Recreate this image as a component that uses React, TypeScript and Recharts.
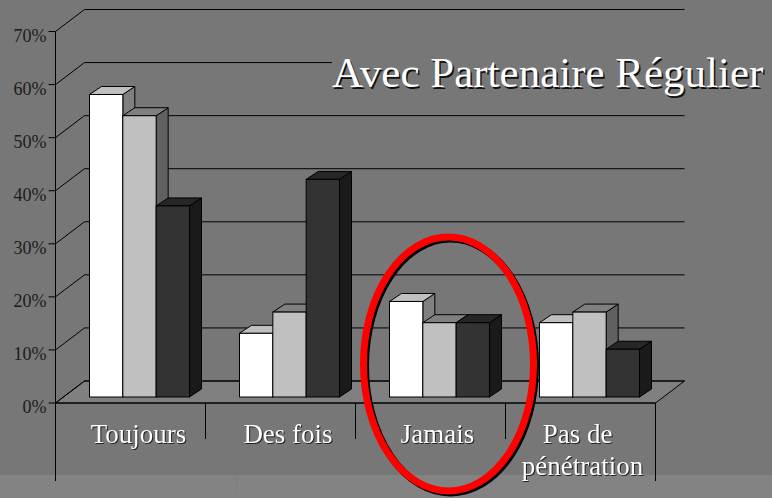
import React from 'react';
import { BarChart, Bar, XAxis, YAxis, CartesianGrid } from 'recharts';

const categories = ['Toujours', 'Des fois', 'Jamais', 'Pas de pénétration'];
const firstSeries = [57, 12, 18, 14];
const secondSeries = [53, 16, 14, 16];
const thirdSeries = [36, 41, 14, 9];
const yTicks = [0, 10, 20, 30, 40, 50, 60, 70];

const data = categories.map((name, i) => ({
  name,
  first: firstSeries[i],
  second: secondSeries[i],
  third: thirdSeries[i],
}));

const FONT = '"Liberation Serif", serif';
const WALL = '#777777';

// manual label nudges, the labels in the original are not centred on the bands
const labelShift: Record<string, number[]> = {
  Toujours: [8],
  'Des fois': [7.5],
  Jamais: [7],
  'Pas de pénétration': [-3, 2],
};

// the wall and floor sit up and to the right of the axis
const WALL_DX = 29;
const WALL_DY = -22;

const wallLine = (props: any) => {
  const { x1, x2, y1, index } = props;
  const isFloor = y1 > 400;
  const isCut = y1 > 60 && y1 < 65; // the title box hides most of this one
  const backEnd = isCut ? 332 : x2 + WALL_DX;
  return (
    <g key={`wall-${index}`}>
      {isFloor && (
        <polygon
          points={`${x1},${y1} ${x1 + WALL_DX},${y1 + WALL_DY} ${x2 + WALL_DX},${y1 + WALL_DY} ${x2},${y1}`}
          fill="#808080"
          stroke="#000"
        />
      )}
      <line x1={x1} y1={y1} x2={x1 + WALL_DX} y2={y1 + WALL_DY} stroke="#000" />
      <line x1={x1 + WALL_DX} y1={y1 + WALL_DY} x2={backEnd} y2={y1 + WALL_DY} stroke="#000" />
    </g>
  );
};

const Bar3D = (props: any) => {
  const { x, y, width, height, front, top, side } = props;
  const left = x + 9;
  const right = left + width;
  const up = y - 6;
  const down = up + height;
  const dx = 12;
  const dy = 8;
  return (
    <g stroke="#000" strokeWidth={1}>
      <polygon fill={side} points={`${right},${up} ${right + dx},${up - dy} ${right + dx},${down - dy} ${right},${down}`} />
      <polygon fill={top} points={`${left},${up} ${left + dx},${up - dy} ${right + dx},${up - dy} ${right},${up}`} />
      <rect x={left} y={up} width={width} height={height} fill={front} />
    </g>
  );
};

const YTick = ({ x, y, payload }: any) => (
  <text x={x - 2} y={y + 10} textAnchor="end" fontFamily={FONT} fontSize={18} fill="#1c1c1c">
    {payload.value}%
  </text>
);

const XTick = ({ x, payload, index }: any) => {
  const name: string = payload.value;
  const edgeX = x + 75;
  const lines = name === 'Pas de pénétration' ? ['Pas de', 'pénétration'] : [name];
  const shift = labelShift[name];
  return (
    <g>
      {index === 0 && <line x1={x - 75} y1={403} x2={x - 75} y2={481} stroke="#000" />}
      <line x1={edgeX} y1={403} x2={edgeX} y2={index === categories.length - 1 ? 481 : 439} stroke="#000" />
      {lines.map((line, i) => (
        <text
          key={line}
          x={x + shift[i]}
          y={443 + i * 32}
          textAnchor="middle"
          fontFamily={FONT}
          fontSize={27}
          fill="#fff"
          style={{ filter: 'drop-shadow(1px 1px 0 #222)' }}
        >
          {line}
        </text>
      ))}
    </g>
  );
};

export default function App() {
  return (
    <div style={{ position: 'absolute', left: 0, top: 0, width: 772, height: 498, background: WALL, overflow: 'hidden' }}>
      <div style={{ position: 'absolute', left: 0, top: 475, width: 772, height: 23, background: '#838383' }} />
      <div style={{ position: 'absolute', left: 236, top: 475, width: 1, height: 16, background: '#7c7c7c' }} />
      <div style={{ position: 'absolute', left: 0, top: 0 }}>
        <BarChart
          width={772}
          height={498}
          data={data}
          margin={{ top: 31.5, right: 116.5, bottom: 0, left: 0 }}
          barGap={0}
          barSize={33.33}
        >
          <CartesianGrid horizontal={wallLine} vertical={false} />
          <XAxis
            dataKey="name"
            height={95}
            interval={0}
            tick={<XTick />}
            tickLine={false}
            axisLine={{ stroke: '#000' }}
          />
          <YAxis
            width={55.5}
            domain={[0, 70]}
            ticks={yTicks}
            interval={0}
            tick={<YTick />}
            tickSize={7}
            tickMargin={0}
            tickLine={{ stroke: '#000' }}
            axisLine={{ stroke: '#000' }}
          />
          <Bar dataKey="first" isAnimationActive={false} shape={<Bar3D front="#ffffff" top="#c0c0c0" side="#808080" />} />
          <Bar dataKey="second" isAnimationActive={false} shape={<Bar3D front="#c0c0c0" top="#808080" side="#606060" />} />
          <Bar dataKey="third" isAnimationActive={false} shape={<Bar3D front="#333333" top="#262626" side="#1a1a1a" />} />
        </BarChart>
      </div>
      <div
        style={{
          position: 'absolute',
          left: 332,
          top: 48,
          width: 440,
          height: 54,
          background: WALL,
          color: '#fff',
          fontFamily: FONT,
          fontSize: 43,
          lineHeight: '50px',
          whiteSpace: 'nowrap',
          textShadow: '1.5px 1.5px 0 #111',
        }}
      >
        Avec Partenaire Régulier
      </div>
      <svg width={772} height={498} style={{ position: 'absolute', left: 0, top: 0 }}>
        <ellipse cx={450.5} cy={366} rx={85} ry={127} fill="none" stroke="#000" strokeWidth={7} />
        <ellipse cx={448.5} cy={364} rx={85} ry={127} fill="none" stroke="#ff0000" strokeWidth={7} />
      </svg>
    </div>
  );
}
